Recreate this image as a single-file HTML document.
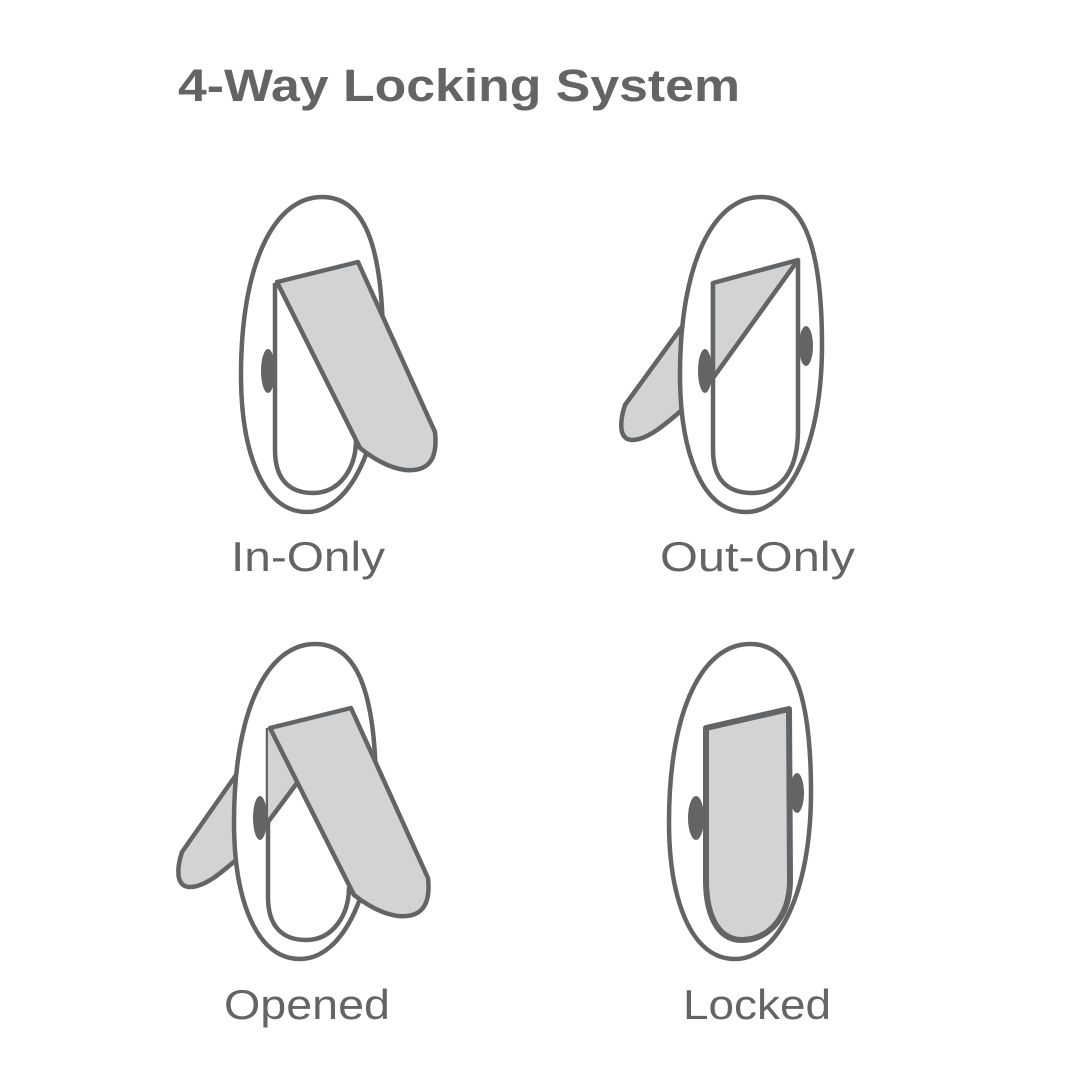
<!DOCTYPE html>
<html><head><meta charset="utf-8"><style>
html,body{margin:0;padding:0;background:#fff;}
svg{display:block;}
text{font-family:"Liberation Sans","DejaVu Sans",sans-serif;fill:#636466;}
</style></head><body>
<svg width="1080" height="1080" viewBox="0 0 1080 1080" xmlns="http://www.w3.org/2000/svg">
<defs>
<path id="oval" d="M322,197 C362,197 383,240 383,345 C383,445 350,512 307,512 C262,512 241,450 241,375 C241,262 275,197 322,197 Z"/>
</defs>
<g stroke="#636466" stroke-width="4.5" stroke-linejoin="round" fill="#fff">
<!-- In-Only -->
<use href="#oval"/>
<path d="M275,283 L275,450 C275,480 290,493 313,493 C340,493 356,468 356,440" fill="none"/>
<ellipse cx="268" cy="371" rx="7" ry="22" fill="#636466" stroke="none"/>
<path d="M277,282 L358,262 L435,432 C438,460 428,472 405,470 C390,468 375,460 360,448 Z" fill="#d1d3d4"/>

<!-- Out-Only -->
<path d="M681,328 L625,405 C620,420 618,440 632,440 C648,440 668,422 682,410 Z" fill="#d1d3d4"/>
<use href="#oval" transform="translate(439,0)"/>
<path d="M713,283 L713,450 C713,480 728,493 752,493 C785,493 798,465 798,430 L798,260" fill="none"/>
<path d="M713,283 L798,260 L713,378 Z" fill="#d1d3d4"/>
<ellipse cx="705" cy="371" rx="7" ry="22" fill="#636466" stroke="none"/>
<ellipse cx="806" cy="346" rx="7" ry="20" fill="#636466" stroke="none"/>

<!-- Opened -->
<path d="M236,775 L182,852 C177,867 175,887 190,887 C205,887 222,872 236,860 Z" fill="#d1d3d4"/>
<use href="#oval" transform="translate(-7,447)"/>
<path d="M268,728 L268,897 C268,927 283,940 306,940 C333,940 349,915 349,887" fill="none"/>
<path d="M268,728 L300,720 L300,780 L268,822 Z" fill="#d1d3d4" stroke="none"/>
<path d="M268,822 L297,783" fill="none"/>
<ellipse cx="260" cy="818" rx="7" ry="22" fill="#636466" stroke="none"/>
<path d="M270,728 L351,708 L428,878 C431,906 421,918 398,916 C383,914 368,906 354,895 Z" fill="#d1d3d4"/>

<!-- Locked -->
<use href="#oval" transform="translate(428,447)"/>
<ellipse cx="696" cy="818" rx="8" ry="22" fill="#636466" stroke="none"/>
<ellipse cx="797" cy="793" rx="7" ry="20" fill="#636466" stroke="none"/>
<path d="M706,728 L789,709 L790,880 C790,915 770,940 742,940 C715,940 706,910 706,880 Z" fill="#d1d3d4" stroke-width="6"/>
</g>
<text x="178" y="101" font-size="45" font-weight="bold" textLength="562" lengthAdjust="spacingAndGlyphs">4-Way Locking System</text>
<text x="231" y="571" font-size="42" textLength="154" lengthAdjust="spacingAndGlyphs">In-Only</text>
<text x="660" y="571" font-size="42" textLength="195" lengthAdjust="spacingAndGlyphs">Out-Only</text>
<text x="224" y="1019" font-size="42" textLength="166" lengthAdjust="spacingAndGlyphs">Opened</text>
<text x="683" y="1019" font-size="42" textLength="148" lengthAdjust="spacingAndGlyphs">Locked</text>
</svg>
</body></html>
